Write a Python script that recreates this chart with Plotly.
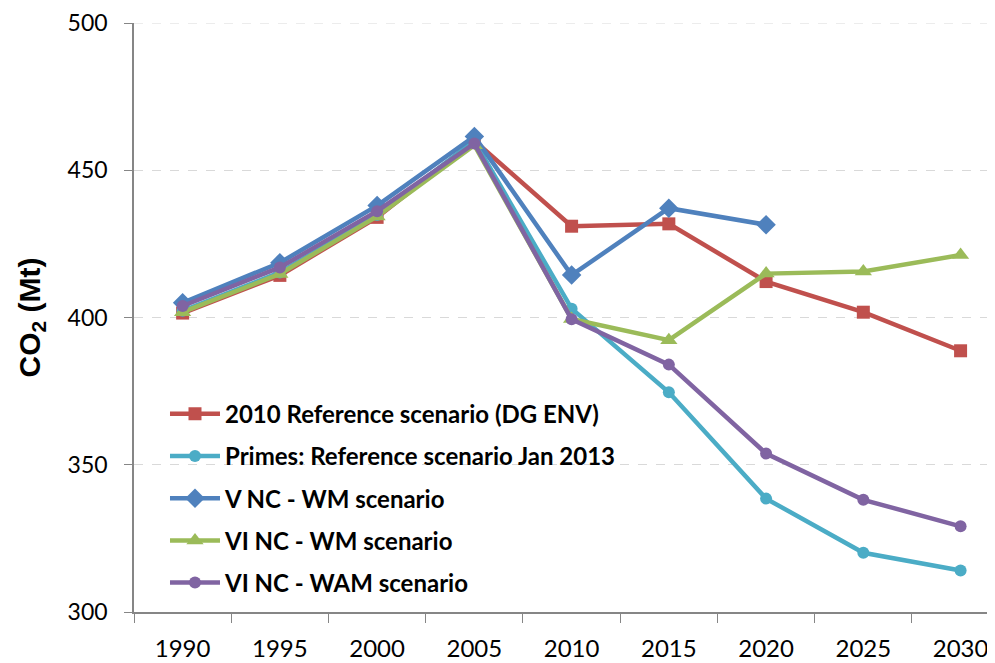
import plotly.graph_objects as go

years = ["1990", "1995", "2000", "2005", "2010", "2015", "2020", "2025", "2030"]

ref_2010 = [401.5, 414.3, 434.0, 460.0, 431.0, 431.8, 412.2, 401.8, 388.7]
primes_2013 = [402.3, 415.3, 434.8, 460.0, 403.0, 374.6, 338.5, 320.1, 314.1]
v_nc_wm = [405.0, 418.6, 438.0, 461.5, 414.4, 437.1, 431.5, None, None]
vi_nc_wm = [401.8, 414.8, 434.3, 458.5, 399.5, 392.3, 414.9, 415.6, 421.2]
vi_nc_wam = [403.9, 417.0, 436.1, 459.1, 399.4, 384.0, 353.8, 338.1, 329.1]

series_names = [
    "2010 Reference scenario (DG ENV)",
    "Primes: Reference scenario Jan 2013",
    "V NC - WM scenario",
    "VI NC - WM scenario",
    "VI NC - WAM scenario",
]
series_values = [ref_2010, primes_2013, v_nc_wm, vi_nc_wm, vi_nc_wam]
colors = ["#C0504D", "#4BACC6", "#4F81BD", "#9BBB59", "#8064A2"]
symbols = ["square", "circle", "diamond", "triangle-up", "circle"]
msizes = [13, 12, 15, 15, 12]

y_ticks = [300, 350, 400, 450, 500]

FONT = "Lato"

fig = go.Figure()
for i, (name, vals) in enumerate(zip(series_names, series_values)):
    fig.add_trace(go.Scatter(
        x=years, y=vals, name=name, mode="lines+markers",
        line=dict(color=colors[i], width=4.5),
        marker=dict(symbol=symbols[i], size=msizes[i], color=colors[i]),
        legendgroup=f"g{i}",
        connectgaps=False,
    ))

# top gridline (plotly skips gridlines lying on the plot edge)
fig.add_hline(y=y_ticks[-1], line=dict(color="#D9D9D9", width=1.2, dash="dash"), layer="below")

fig.update_layout(
    width=987, height=655,
    margin=dict(l=126, r=0, t=11, b=51),
    paper_bgcolor="white", plot_bgcolor="white",
    font=dict(family=FONT, color="#000000"),
    showlegend=True,
    legend=dict(
        x=0.036, y=0.374, xanchor="left", yanchor="top",
        bgcolor="rgba(0,0,0,0)",
        font=dict(family=FONT, size=24, color="#000000", weight="bold"),
        tracegroupgap=8,
        itemwidth=50,
        traceorder="grouped",
    ),
    xaxis=dict(
        type="category",
        range=[-0.5, 8.354],
        tickson="boundaries",
        ticks="outside", ticklen=9, tickcolor="#868686", tickwidth=1,
        showline=True, linecolor="#868686", linewidth=1.5,
        showgrid=False,
        tickfont=dict(family=FONT, size=24, color="#000000"),
        ticklabelstandoff=14,
    ),
    yaxis=dict(
        range=[300, 500],
        tickvals=y_ticks,
        ticks="outside", ticklen=8, tickcolor="#868686", tickwidth=1,
        showline=True, linecolor="#868686", linewidth=1.5,
        showgrid=True, gridcolor="#D9D9D9", griddash="dash", gridwidth=1.2,
        zeroline=False,
        tickfont=dict(family=FONT, size=23, color="#000000"),
        ticklabelstandoff=12,
        ticklabeloverflow="allow",
        title=dict(text="CO<sub>2</sub> (Mt)",
                   font=dict(family="Liberation Sans", size=30, color="#000000", weight="bold"),
                   standoff=18),
    ),
)

fig.write_html("out.html")
